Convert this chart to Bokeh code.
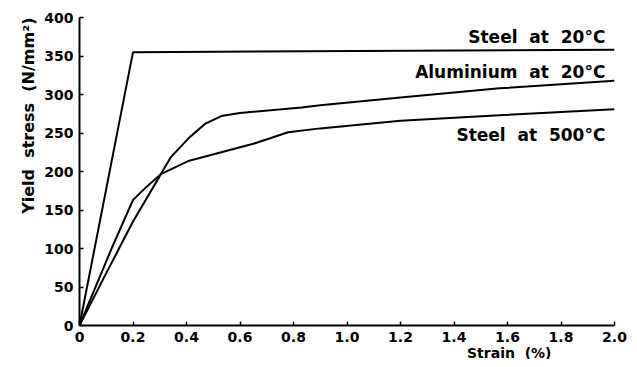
from bokeh.plotting import figure
from bokeh.models import Range1d, FixedTicker, Label, Title
from bokeh.embed import file_html
from bokeh.resources import INLINE

# ---- data ----
steel20_x = [0, 0.2, 2.0]
steel20_y = [0, 355, 358]

alu_x = [0, 0.1, 0.2, 0.3, 0.34, 0.41, 0.47, 0.53, 0.6, 0.83, 0.9, 1.2, 1.57, 2.0]
alu_y = [0, 68, 135, 194, 218, 244, 262, 272, 276, 283, 286, 296, 308, 318]

steel500_x = [0, 0.12, 0.2, 0.25, 0.306, 0.41, 0.65, 0.78, 0.9, 1.2, 1.57, 2.0]
steel500_y = [0, 100, 163, 180, 197, 214, 236, 251, 256, 266, 273, 281]

x_ticks = [0, 0.2, 0.4, 0.6, 0.8, 1.0, 1.2, 1.4, 1.6, 1.8, 2.0]
x_tick_labels = ["0", "0.2", "0.4", "0.6", "0.8", "1.0", "1.2", "1.4", "1.6", "1.8", "2.0"]
y_ticks = [0, 50, 100, 150, 200, 250, 300, 350, 400]

NB = "\u00a0"
curve_labels = [f"Steel{NB} at{NB} 20°C", f"Aluminium{NB} at{NB} 20°C", f"Steel{NB} at{NB} 500°C"]
curve_label_y = [375, 329, 247]
y_title = f"Yield{NB} stress{NB} (N/mm²)"
x_title = f"Strain{NB} (%)"

FONT = "DejaVu Sans"

p = figure(width=629, height=359, output_backend="svg", toolbar_location=None,
           x_range=Range1d(0, 2.0), y_range=Range1d(0, 400))
p.min_border_left = 79
p.min_border_right = 15
p.min_border_top = 17
p.min_border_bottom = 34
p.outline_line_color = None
p.xgrid.visible = False
p.ygrid.visible = False

for xs, ys in [(steel20_x, steel20_y), (alu_x, alu_y), (steel500_x, steel500_y)]:
    p.line(xs, ys, line_color="black", line_width=2)

for ax in (p.xaxis[0], p.yaxis[0]):
    ax.axis_line_width = 2
    ax.axis_line_color = "black"
    ax.major_tick_in = 4
    ax.major_tick_out = 0
    ax.major_tick_line_width = 1.5
    ax.minor_tick_line_color = None
    ax.major_label_text_font = FONT
    ax.major_label_text_font_style = "bold"
    ax.major_label_text_font_size = "14px"
    ax.major_label_text_color = "black"

p.xaxis[0].ticker = FixedTicker(ticks=x_ticks)
p.xaxis[0].major_label_overrides = {t: l for t, l in zip(x_ticks, x_tick_labels)}
p.xaxis[0].major_label_standoff = 6
p.yaxis[0].ticker = FixedTicker(ticks=y_ticks)
p.yaxis[0].major_label_standoff = 6

# axis titles (as side titles so they are not clipped to the frame)
p.add_layout(Title(text=y_title, align="right", offset=0, standoff=8,
                   text_font=FONT, text_font_style="bold", text_font_size="16px",
                   text_color="black"), "left")
p.add_layout(Title(text=x_title, align="right", offset=63, standoff=-4,
                   text_font=FONT, text_font_style="bold", text_font_size="14px",
                   text_color="black"), "below")

for txt, yy in zip(curve_labels, curve_label_y):
    p.add_layout(Label(x=1.966, y=yy, text=txt, text_align="right", text_baseline="middle",
                       text_font=FONT, text_font_style="bold", text_font_size="17px",
                       text_color="black"))

open("out.html", "w").write(file_html(p, INLINE))
